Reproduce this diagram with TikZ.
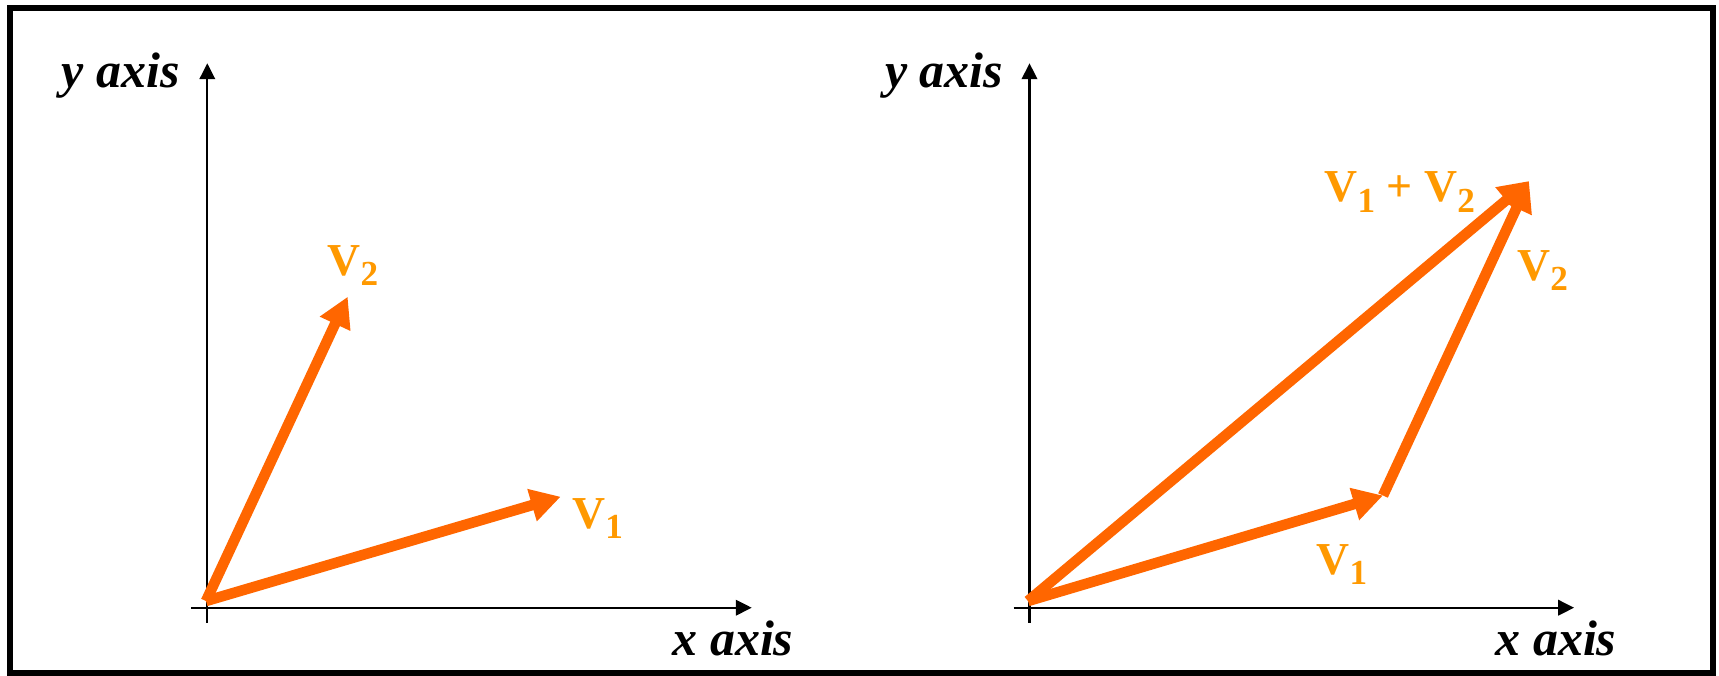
\documentclass[tikz,border=0pt]{standalone}
\usepackage{fontspec}
\setmainfont{Liberation Serif}
\usetikzlibrary{arrows.meta}
\definecolor{vecorange}{RGB}{255,102,0}
\definecolor{laborange}{RGB}{255,153,0}
\newcommand{\Vsub}[1]{V\raisebox{-3pt}{\fontsize{10}{10}\selectfont #1}}

\begin{document}
\begin{tikzpicture}[x=0.01cm, y=-0.01cm, line join=miter,
	axis/.style={line width=0.6pt, -{Triangle[length=4.5pt,width=4.4pt]}},
	vecarrow/.style={draw=vecorange, line width=3pt, -{Triangle[length=8.5pt,width=9pt]}},
	axislabel/.style={font=\fontsize{14.2}{16}\selectfont\bfseries\itshape, inner sep=0pt, anchor=base},
	veclabel/.style={text=laborange, font=\fontsize{13}{16}\selectfont\bfseries, inner sep=0pt, anchor=base west}]
	\useasboundingbox (0,0) rectangle (1719,675);
	
	% Khung
	\draw[line width=1.5pt] (10,8) rectangle (1713,673);
	
	% Tọa độ
	\coordinate (O1) at (207.3,607.7);
	\coordinate (X1) at (751.7,607.7);
	\coordinate (Y1) at (207.3,63.3);
	\coordinate (O2) at (1029.5,607.7);
	\coordinate (X2) at (1574,607.7);
	\coordinate (Y2) at (1029.5,63.3);
	\coordinate (A1) at (206,601);
	\coordinate (B1) at (560.7,496.7);
	\coordinate (C1) at (347.7,296.7);
	\coordinate (A2) at (1028,601);
	\coordinate (B2) at (1383,495.5);
	\coordinate (C2) at (1529,181);
	
	% Các trục
	\draw[axis] (O1) ++(-16,0) -- (X1);
	\draw[axis] (O1) ++(0,15) -- (Y1);
	\draw[axis] (O2) ++(-16,0) -- (X2);
	\draw[axis] (O2) ++(0,15) -- (Y2);
	\node[axislabel] (ylab1) at (120.5,87) {y axis};
	\node[axislabel] (xlab1) at (733,655) {x axis};
	\node[axislabel] (ylab2) at (944,87) {y axis};
	\node[axislabel] (xlab2) at (1556,655) {x axis};
	
	% Hai vectơ
	\draw[vecarrow] (A1) -- (B1);
	\draw[vecarrow] (A1) -- (C1);
	\node[veclabel] (v1a) at (571.7,528) {\Vsub{1}};
	\node[veclabel] (v2a) at (327,275) {\Vsub{2}};
	
	% Tổng hai vectơ
	\draw[vecarrow] (A2) -- (B2);
	\draw[vecarrow] (B2) -- (C2);
	\draw[vecarrow] (A2) -- (C2);
	\node[veclabel] (v1b) at (1316,574) {\Vsub{1}};
	\node[veclabel] (v2b) at (1516.7,280) {\Vsub{2}};
	\node[veclabel] (sum) at (1324,201.7) {\Vsub{1} + \Vsub{2}};
\end{tikzpicture}
\end{document}
